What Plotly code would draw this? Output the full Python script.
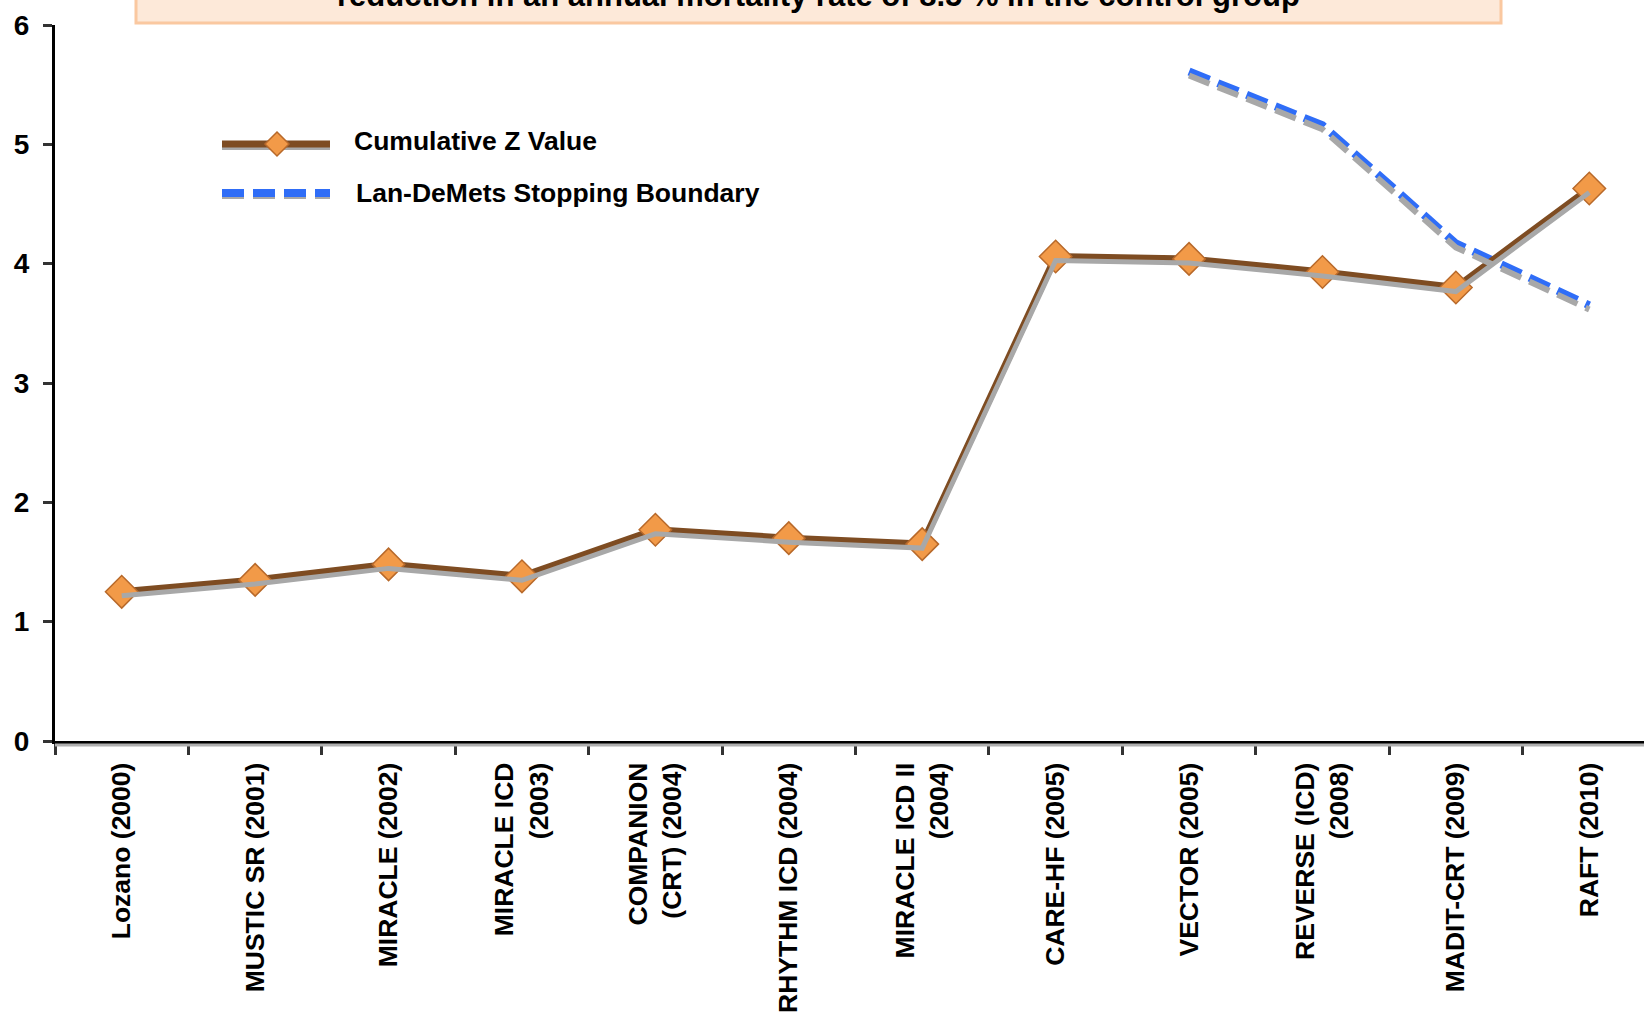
import plotly.graph_objects as go

trials = ["Lozano (2000)", "MUSTIC SR (2001)", "MIRACLE (2002)", "MIRACLE ICD<br>(2003)",
          "COMPANION<br>(CRT) (2004)", "RHYTHM ICD (2004)", "MIRACLE ICD II<br>(2004)",
          "CARE-HF (2005)", "VECTOR (2005)", "REVERSE (ICD)<br>(2008)", "MADIT-CRT (2009)",
          "RAFT (2010)"]
cum_z = [1.25, 1.35, 1.48, 1.38, 1.77, 1.70, 1.65, 4.06, 4.04, 3.93, 3.80, 4.63]
boundary_trials = ["VECTOR (2005)", "REVERSE (ICD)<br>(2008)", "MADIT-CRT (2009)", "RAFT (2010)"]
boundary = [5.61, 5.16, 4.17, 3.65]
y_ticks = [0, 1, 2, 3, 4, 5, 6]
title_text = "reduction in an annual mortality rate of 8.5 % in the control group"

FONT = "Liberation Sans, Arial, sans-serif"
BROWN = "#7E4C22"
ORANGE = "#F29A48"
BLUE = "#2F6DF7"
SHADOW = "#A8A8A8"

fig = go.Figure()

# shadows (drawn on a slightly shifted hidden axis)
fig.add_trace(go.Scatter(x=boundary_trials, y=boundary, mode="lines", yaxis="y2",
                         line=dict(color=SHADOW, width=6, dash="22px,9px"),
                         showlegend=False, hoverinfo="skip"))
fig.add_trace(go.Scatter(x=trials, y=cum_z, mode="lines", yaxis="y2",
                         line=dict(color=SHADOW, width=5),
                         showlegend=False, hoverinfo="skip"))

fig.add_trace(go.Scatter(x=boundary_trials, y=boundary, mode="lines",
                         name="Lan-DeMets Stopping Boundary",
                         line=dict(color=BLUE, width=8, dash="22px,9px"),
                         showlegend=False))
fig.add_trace(go.Scatter(x=trials, y=cum_z, mode="lines+markers",
                         name="Cumulative Z Value",
                         line=dict(color=BROWN, width=7),
                         marker=dict(symbol="diamond", size=25, color=ORANGE,
                                     line=dict(color="#B8692A", width=1.5)),
                         showlegend=False))

W, H = 1644, 1013
L, T, B = 55, 25, 272
PW, PH = W - L, H - T - B


def px_x(p):
    return (p - L) / PW


def px_y(p):
    return (H - B - p) / PH


shift = 4 * 6 / PH

shapes = [
    # title box
    dict(type="rect", xref="paper", yref="paper", x0=px_x(136), x1=px_x(1501),
         y0=px_y(23), y1=px_y(-60), fillcolor="#FDE9D9",
         line=dict(color="#FAC8A0", width=3), layer="above"),
    # axis shadow
    dict(type="line", xref="paper", yref="paper", x0=0, x1=1, y0=px_y(745), y1=px_y(745),
         line=dict(color="#B0B0B0", width=3)),
    # legend samples: shadows
    dict(type="line", xref="paper", yref="paper", x0=px_x(222), x1=px_x(330),
         y0=px_y(148), y1=px_y(148), line=dict(color=SHADOW, width=4)),
    dict(type="line", xref="paper", yref="paper", x0=px_x(222), x1=px_x(330),
         y0=px_y(197), y1=px_y(197), line=dict(color=SHADOW, width=4, dash="22px,9px")),
    dict(type="line", xref="paper", yref="paper", x0=px_x(222), x1=px_x(330),
         y0=px_y(144), y1=px_y(144), line=dict(color=BROWN, width=7)),
    dict(type="line", xref="paper", yref="paper", x0=px_x(222), x1=px_x(330),
         y0=px_y(193), y1=px_y(193), line=dict(color=BLUE, width=8, dash="22px,9px")),
    dict(type="path", xref="paper", yref="paper", xsizemode="pixel", ysizemode="pixel",
         xanchor=px_x(277), yanchor=px_y(144),
         path="M 0,12 L 12,0 L 0,-12 L -12,0 Z", fillcolor=ORANGE,
         line=dict(color="#B8692A", width=1.5)),
]

annotations = [
    dict(text="<b>" + title_text + "</b>", xref="paper", yref="paper",
         x=px_x(818), y=px_y(-5), xanchor="center", yanchor="middle", showarrow=False,
         font=dict(family=FONT, size=31, color="#000000")),
    dict(text="<b>Cumulative Z Value</b>", xref="paper", yref="paper",
         x=px_x(352), y=px_y(141), xanchor="left", yanchor="middle", showarrow=False,
         font=dict(family=FONT, size=26.5, color="#000000")),
    dict(text="<b>Lan-DeMets Stopping Boundary</b>", xref="paper", yref="paper",
         x=px_x(354), y=px_y(193), xanchor="left", yanchor="middle", showarrow=False,
         font=dict(family=FONT, size=26.5, color="#000000")),
]

fig.update_layout(
    width=W, height=H,
    margin=dict(l=L, r=0, t=T, b=B, pad=0),
    paper_bgcolor="white", plot_bgcolor="white",
    showlegend=False,
    shapes=shapes, annotations=annotations,
    xaxis=dict(type="category", categoryorder="array", categoryarray=trials,
               range=[-0.5, 11.41], showgrid=False, zeroline=False,
               showline=True, linecolor="#000000", linewidth=3,
               ticks="outside", tickson="boundaries", ticklen=11, tickwidth=3,
               tickcolor="#333333", tickangle=-90, ticklabelstandoff=8,
               tickfont=dict(family=FONT, size=26.5, color="#000000", weight="bold")),
    yaxis=dict(range=[0, 6], tickvals=y_ticks, showgrid=False, zeroline=False,
               showline=True, linecolor="#000000", linewidth=3,
               ticks="outside", ticklen=9, tickwidth=3, tickcolor="#333333",
               ticklabelstandoff=8,
               tickfont=dict(family=FONT, size=28, color="#000000", weight="bold")),
    yaxis2=dict(range=[0 + shift, 6 + shift], overlaying="y", visible=False,
                showgrid=False, zeroline=False),
)

fig.write_html("out.html")
